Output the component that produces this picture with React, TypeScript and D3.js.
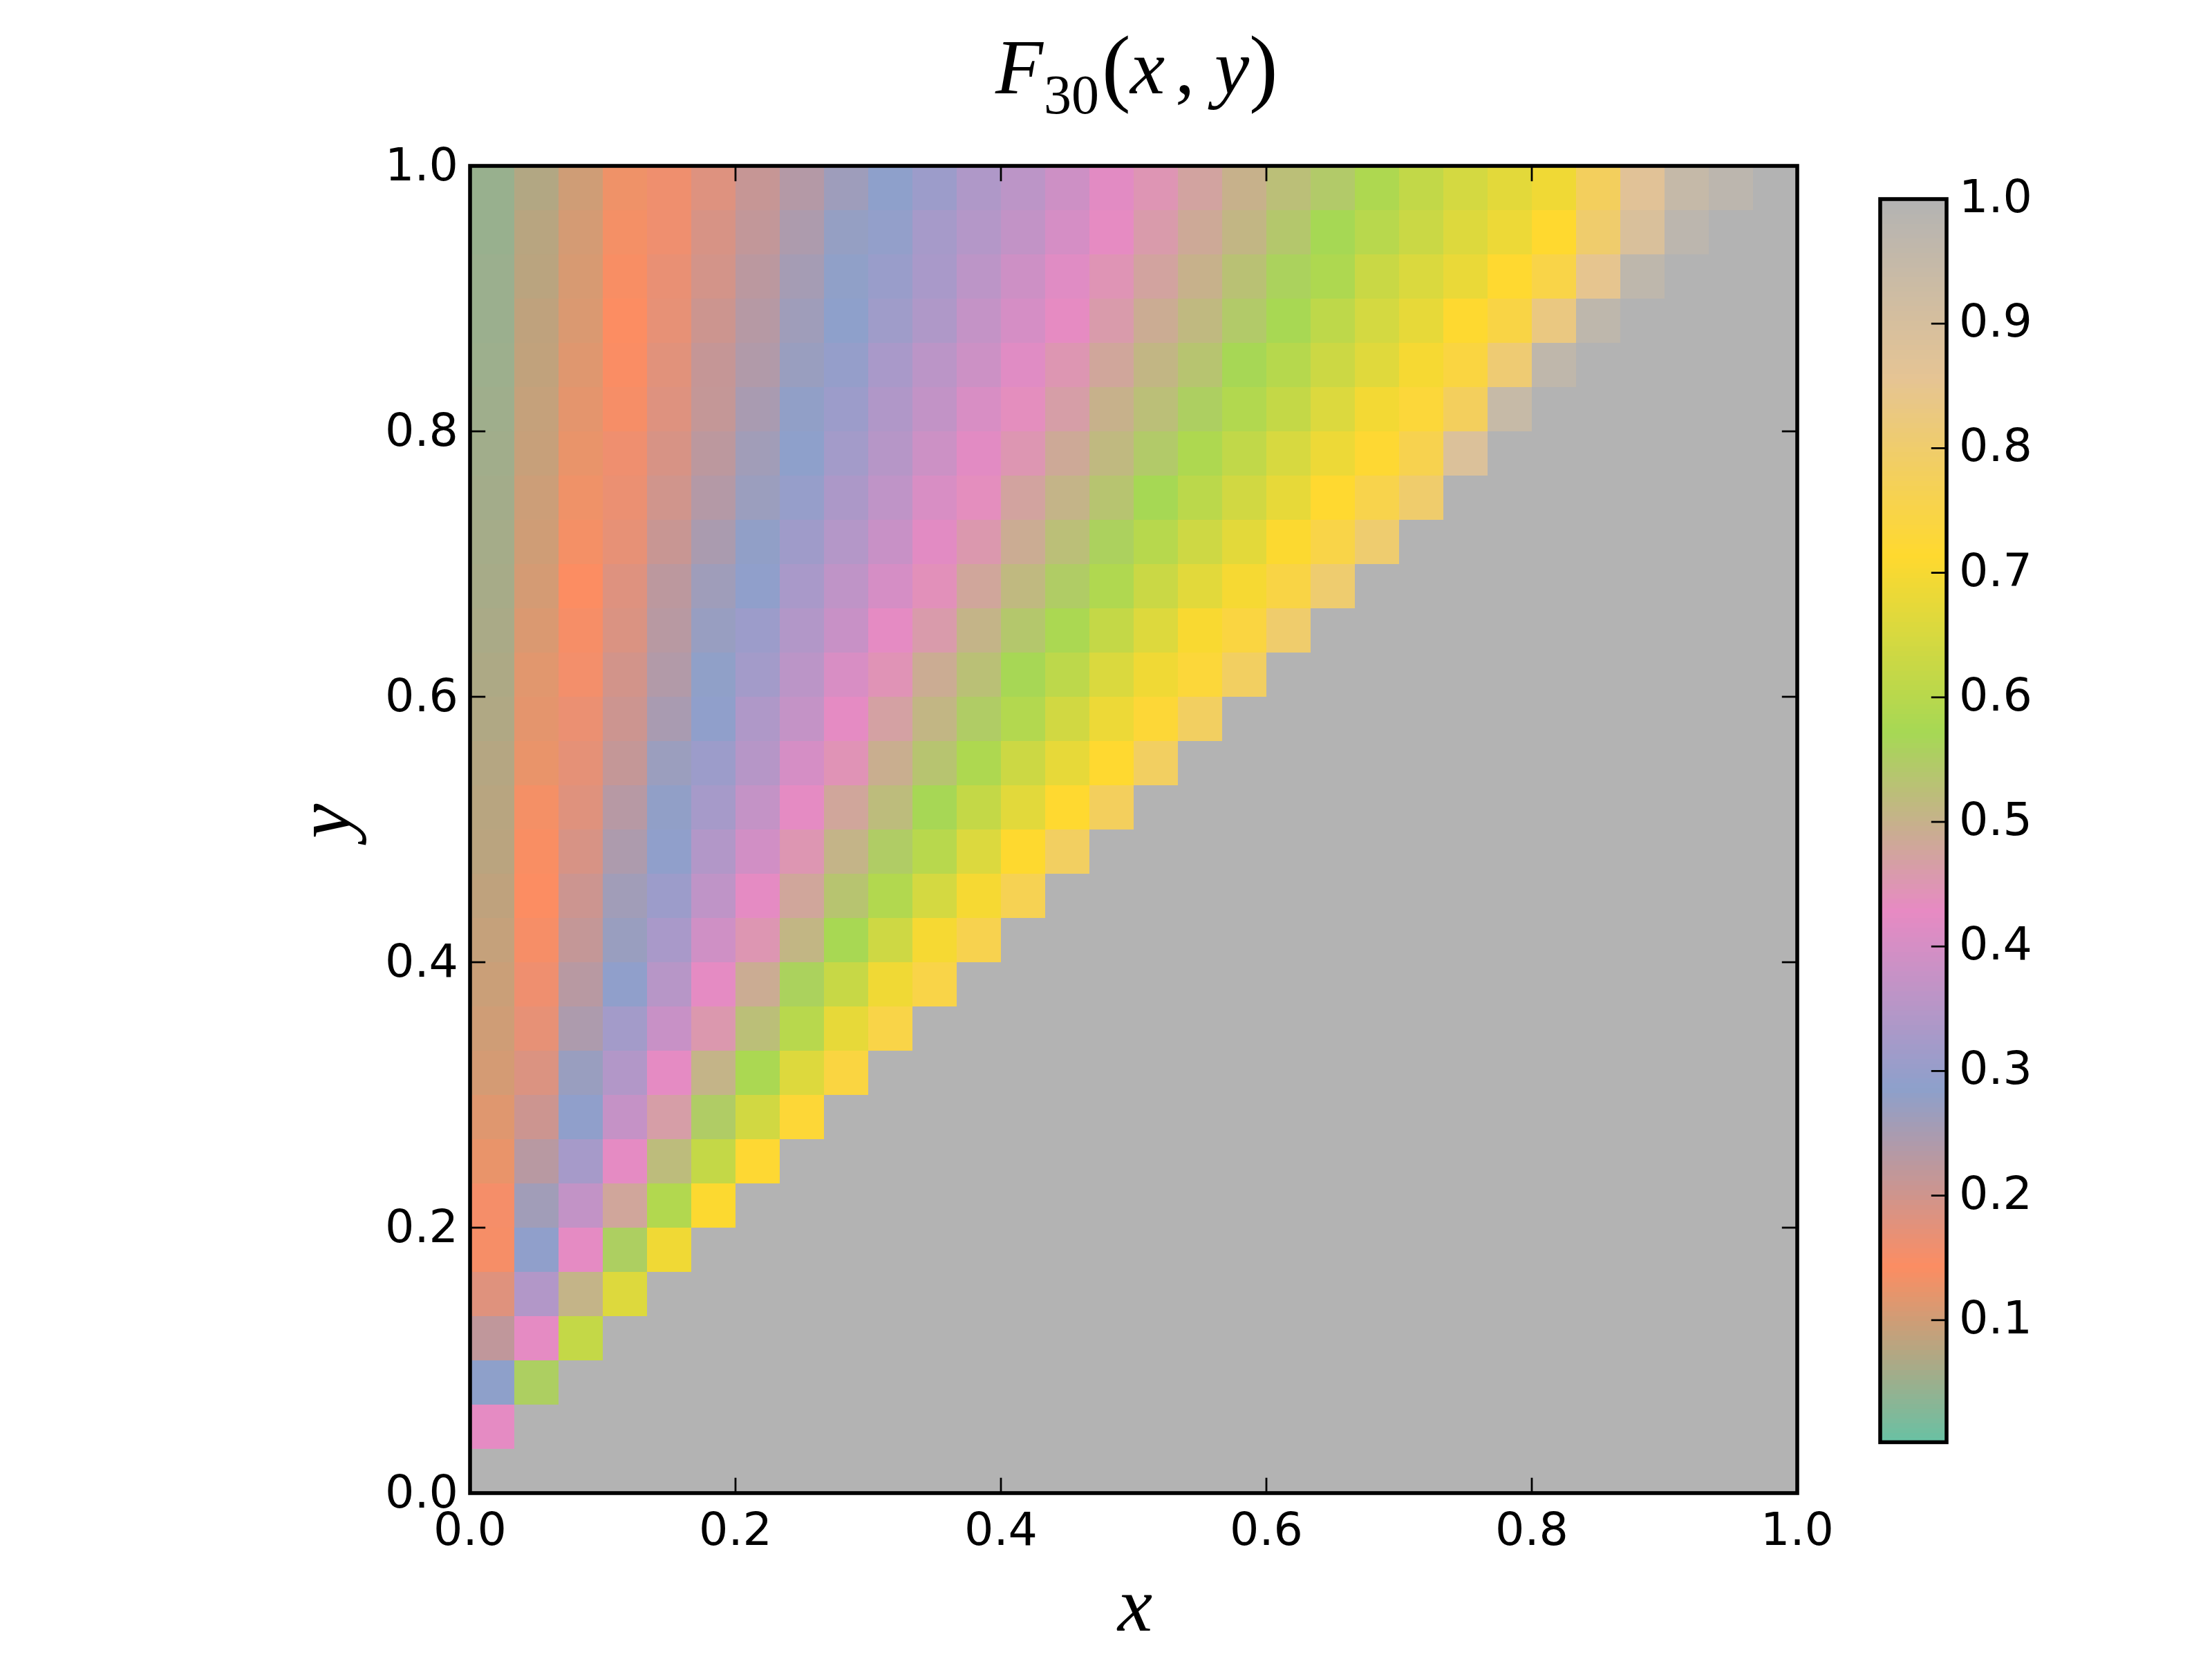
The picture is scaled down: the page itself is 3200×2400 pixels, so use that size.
import React from "react";
import * as d3 from "d3";

// One array per row of the mesh (row index counts up from the bottom).
const row01 = [0.425];
const row02 = [0.285, 0.555];
const row03 = [0.22, 0.425, 0.62];
const row04 = [0.18, 0.345, 0.505, 0.66];
const row05 = [0.15, 0.29, 0.425, 0.555, 0.69];
const row06 = [0.152, 0.26, 0.37, 0.48, 0.59, 0.71];
const row07 = [0.125, 0.23, 0.325, 0.425, 0.52, 0.62, 0.72];
const row08 = [0.115, 0.205, 0.29, 0.375, 0.465, 0.55, 0.64, 0.725];
const row09 = [0.105, 0.185, 0.27, 0.345, 0.425, 0.505, 0.58, 0.66, 0.74];
const row10 = [0.1, 0.17, 0.245, 0.32, 0.38, 0.455, 0.525, 0.6, 0.675, 0.75];
const row11 = [0.095, 0.16, 0.23, 0.29, 0.353, 0.425, 0.49, 0.56, 0.625, 0.69, 0.75];
const row12 = [0.09, 0.15, 0.215, 0.27, 0.33, 0.39, 0.45, 0.51, 0.575, 0.635, 0.7, 0.76];
const row13 = [0.085, 0.143, 0.205, 0.26, 0.31, 0.365, 0.425, 0.48, 0.535, 0.59, 0.645, 0.7, 0.765];
const row14 = [0.08, 0.14, 0.19, 0.245, 0.29, 0.345, 0.393, 0.45, 0.505, 0.55, 0.6, 0.658, 0.713, 0.785];
const row15 = [0.078, 0.135, 0.18, 0.232, 0.28, 0.325, 0.373, 0.425, 0.48, 0.52, 0.57, 0.62, 0.667, 0.715, 0.78];
const row16 = [0.075, 0.125, 0.172, 0.215, 0.268, 0.31, 0.35, 0.4, 0.445, 0.495, 0.535, 0.585, 0.632, 0.675, 0.715, 0.785];
const row17 = [0.07, 0.12, 0.165, 0.205, 0.25, 0.29, 0.34, 0.373, 0.425, 0.47, 0.51, 0.55, 0.592, 0.64, 0.685, 0.725, 0.785];
const row18 = [0.068, 0.117, 0.155, 0.197, 0.238, 0.282, 0.32, 0.358, 0.405, 0.445, 0.49, 0.528, 0.57, 0.608, 0.655, 0.69, 0.73, 0.785];
const row19 = [0.065, 0.11, 0.15, 0.187, 0.23, 0.272, 0.31, 0.345, 0.38, 0.425, 0.46, 0.505, 0.54, 0.58, 0.62, 0.66, 0.705, 0.74, 0.8];
const row20 = [0.062, 0.105, 0.143, 0.182, 0.225, 0.262, 0.29, 0.33, 0.365, 0.4, 0.44, 0.48, 0.515, 0.55, 0.587, 0.63, 0.667, 0.7, 0.745, 0.805];
const row21 = [0.06, 0.1, 0.135, 0.17, 0.21, 0.248, 0.28, 0.315, 0.347, 0.38, 0.42, 0.455, 0.49, 0.525, 0.558, 0.598, 0.635, 0.67, 0.71, 0.75, 0.805];
const row22 = [0.058, 0.097, 0.13, 0.165, 0.2, 0.235, 0.268, 0.3, 0.335, 0.365, 0.405, 0.435, 0.475, 0.505, 0.535, 0.572, 0.605, 0.64, 0.675, 0.715, 0.755, 0.8];
const row23 = [0.056, 0.092, 0.125, 0.16, 0.19, 0.225, 0.26, 0.288, 0.32, 0.35, 0.385, 0.42, 0.45, 0.485, 0.515, 0.545, 0.585, 0.615, 0.65, 0.685, 0.72, 0.76, 0.885];
const row24 = [0.054, 0.09, 0.12, 0.15, 0.182, 0.215, 0.25, 0.28, 0.31, 0.342, 0.37, 0.405, 0.435, 0.465, 0.5, 0.525, 0.555, 0.59, 0.62, 0.658, 0.695, 0.73, 0.78, 0.945];
const row25 = [0.052, 0.087, 0.115, 0.145, 0.177, 0.213, 0.24, 0.27, 0.298, 0.33, 0.358, 0.385, 0.418, 0.45, 0.48, 0.51, 0.535, 0.57, 0.597, 0.632, 0.665, 0.7, 0.74, 0.81, 0.965];
const row26 = [0.05, 0.085, 0.11, 0.143, 0.17, 0.204, 0.233, 0.262, 0.287, 0.314, 0.34, 0.373, 0.4, 0.43, 0.46, 0.49, 0.515, 0.545, 0.575, 0.61, 0.645, 0.675, 0.712, 0.745, 0.83, 0.97];
const row27 = [0.05, 0.08, 0.108, 0.139, 0.167, 0.196, 0.226, 0.255, 0.282, 0.305, 0.33, 0.36, 0.387, 0.417, 0.447, 0.475, 0.5, 0.53, 0.56, 0.585, 0.628, 0.655, 0.68, 0.715, 0.75, 0.85, 0.97];
const row28 = [0.048, 0.078, 0.105, 0.135, 0.16, 0.19, 0.218, 0.245, 0.275, 0.295, 0.325, 0.347, 0.37, 0.4, 0.43, 0.46, 0.485, 0.51, 0.54, 0.572, 0.6, 0.63, 0.66, 0.685, 0.714, 0.8, 0.89, 0.975];
const row29 = [0.048, 0.072, 0.1, 0.13, 0.159, 0.182, 0.212, 0.236, 0.264, 0.288, 0.31, 0.34, 0.36, 0.387, 0.42, 0.448, 0.474, 0.5, 0.525, 0.545, 0.585, 0.617, 0.645, 0.67, 0.69, 0.78, 0.87, 0.95, 0.975];
const rows: number[][] = [[], row01, row02, row03, row04, row05, row06, row07, row08, row09, row10, row11, row12, row13, row14, row15, row16, row17, row18, row19, row20, row21, row22, row23, row24, row25, row26, row27, row28, row29];

const set2Colors = ["#66c2a5", "#fc8d62", "#8da0cb", "#e78ac3", "#a6d854", "#ffd92f", "#e5c494", "#b3b3b3"];
const axisTicks = [0, 0.2, 0.4, 0.6, 0.8, 1];
const colorbarTicks = [0.1, 0.2, 0.3, 0.4, 0.5, 0.6, 0.7, 0.8, 0.9, 1];
const gridSize = 30;
const colorbarLevels = 256;
const colorbarMin = 0.002;

const SANS = "'DejaVu Sans'";
const MATH = "'Liberation Serif'";
const FS = 66.67;
const LW = 5.56;
const TW = 2.78;
const TL = 22.2;

export default function App() {
  const x = d3.scaleLinear().domain([0, 1]).range([680, 2600]);
  const y = d3.scaleLinear().domain([0, 1]).range([2160, 240]);
  const cy = d3.scaleLinear().domain([0, 1]).range([2090, 288]);
  const cbBottom = cy(colorbarMin);
  const color = d3
    .scaleLinear<string>()
    .domain(set2Colors.map((_, i) => i / (set2Colors.length - 1)))
    .range(set2Colors)
    .interpolate(d3.interpolateRgb)
    .clamp(true);

  const cells: React.ReactNode[] = [];
  d3.range(gridSize).forEach((j) => {
    d3.range(gridSize).forEach((i) => {
      const v = rows[j][i] ?? 1;
      const x0 = x(i / gridSize);
      const x1 = x((i + 1) / gridSize);
      const y0 = y((j + 1) / gridSize);
      const y1 = y(j / gridSize);
      cells.push(<rect key={`${i}-${j}`} x={x0} y={y0} width={x1 - x0} height={y1 - y0} fill={color(v)} shapeRendering="crispEdges" />);
    });
  });

  const fmt = d3.format(".1f");
  const level = d3.scaleLinear().domain([0, colorbarLevels]).range([colorbarMin, 1]);

  return (
    <svg width={3200} height={2400} viewBox="0 0 3200 2400" style={{ position: "absolute", left: 0, top: 0, background: "#fff" }}>
      {cells}
      {axisTicks.map((t) => (
        <g key={`t${t}`} stroke="#000" strokeWidth={TW}>
          <line x1={x(t)} x2={x(t)} y1={2160} y2={2160 - TL} />
          <line x1={x(t)} x2={x(t)} y1={240} y2={240 + TL} />
          <line x1={680} x2={680 + TL} y1={y(t)} y2={y(t)} />
          <line x1={2600} x2={2600 - TL} y1={y(t)} y2={y(t)} />
        </g>
      ))}
      <rect x={680} y={240} width={1920} height={1920} fill="none" stroke="#000" strokeWidth={LW} />
      {axisTicks.map((t) => (
        <text key={`xl${t}`} x={x(t)} y={2235} textAnchor="middle" fontFamily={SANS} fontSize={FS}>{fmt(t)}</text>
      ))}
      {axisTicks.map((t) => (
        <text key={`yl${t}`} x={663} y={y(t) + 21} textAnchor="end" fontFamily={SANS} fontSize={FS}>{fmt(t)}</text>
      ))}

      {d3.range(colorbarLevels).map((k) => {
        const b0 = cy(level(k));
        const b1 = cy(level(k + 1));
        return <rect key={`c${k}`} x={2720} width={96} y={b1} height={b0 - b1 + 0.5} fill={color(level(k + 0.5))} shapeRendering="crispEdges" />;
      })}
      {colorbarTicks.map((t) => (
        <line key={`ct${t}`} x1={2816} x2={2816 - TL} y1={cy(t)} y2={cy(t)} stroke="#000" strokeWidth={TW} />
      ))}
      <rect x={2720} y={288} width={96} height={cbBottom - 288} fill="none" stroke="#000" strokeWidth={LW} />
      {colorbarTicks.map((t) => (
        <text key={`cl${t}`} x={2834} y={cy(t) + 19} fontFamily={SANS} fontSize={FS}>{fmt(t)}</text>
      ))}

      <g fontFamily={MATH} fill="#000">
        <text x={1440} y={135} fontSize={113} fontStyle="italic">F</text>
        <text x={1510} y={164} fontSize={80}>30</text>
        <text x={1594} y={138} fontSize={125}>(</text>
        <text x={1635} y={135} fontSize={113} fontStyle="italic">x</text>
        <text x={1700} y={135} fontSize={113}>,</text>
        <text x={1757} y={135} fontSize={113} fontStyle="italic">y</text>
        <text x={1807} y={138} fontSize={125}>)</text>
        <text x={1642} y={2359} fontSize={113} fontStyle="italic" textAnchor="middle">x</text>
        <text transform="translate(506 1188) rotate(-90)" fontSize={113} fontStyle="italic" textAnchor="middle">y</text>
      </g>
    </svg>
  );
}
